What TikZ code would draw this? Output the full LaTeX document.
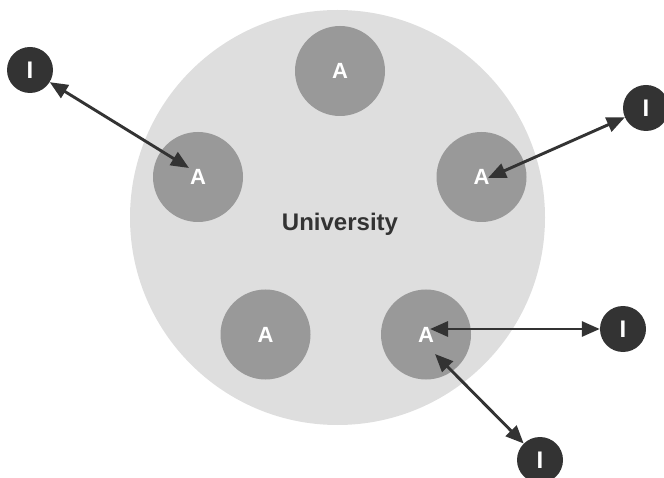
\documentclass[tikz,border=0pt]{standalone}
\usepackage{fontspec}
\setmainfont{Liberation Sans}
\usetikzlibrary{arrows.meta}
\definecolor{uni}{HTML}{DEDEDE}
\definecolor{agray}{HTML}{999999}
\definecolor{dark}{HTML}{333333}
\begin{document}
\begin{tikzpicture}[x=1pt,y=-1pt,
  unicircle/.style={circle,fill=uni,draw=none,minimum size=415pt,inner sep=0pt},
  acircle/.style={circle,fill=agray,draw=none,minimum size=90pt,inner sep=0pt,text=white,font=\bfseries\fontsize{22}{22}\selectfont},
  icircle/.style={circle,fill=dark,draw=none,minimum size=46pt,inner sep=0pt,text=white,font=\bfseries\fontsize{24}{24}\selectfont},
  link/.style={draw=dark,line width=2.9pt,{Triangle[length=18pt,width=15pt]}-{Triangle[length=18pt,width=15pt]}}]
\useasboundingbox (0,0) rectangle (664,478);
\node[unicircle] (U) at (337.5,217.5) {};
\node[text=dark,font=\bfseries\fontsize{24}{24}\selectfont] (ulabel) at (340,224) {University};
\node[acircle] (A1) at (340,71) {A};
\node[acircle] (A2) at (198,177) {A};
\node[acircle] (A3) at (481.5,177) {A};
\node[acircle] (A4) at (265.5,334.5) {A};
\node[acircle] (A5) at (426,334.5) {A};
\node[icircle] (I1) at (30,70) {I};
\node[icircle] (I2) at (646,108) {I};
\node[icircle] (I3) at (623,329) {I};
\node[icircle] (I4) at (540,460) {I};
\coordinate (t1) at (189,168);
\coordinate (t2) at (488,178);
\coordinate (t3) at (430,329);
\coordinate (t4) at (435,354);
\draw[link] (I1) -- (t1);
\draw[link] (I2) -- (t2);
\draw[link] (I3) -- (t3);
\draw[link] (I4) -- (t4);
\end{tikzpicture}
\end{document}
